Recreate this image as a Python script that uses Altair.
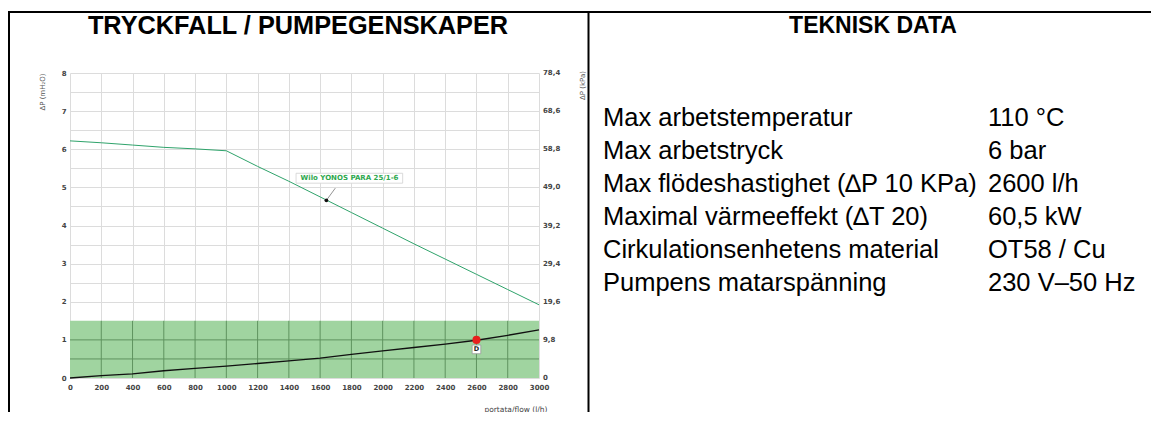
import altair as alt
import pandas as pd

# ---------------- data ----------------
flow = [0, 200, 400, 600, 800, 1000, 1200, 1400, 1600, 1800, 2000, 2200, 2400, 2600, 2800, 3000]
pump_head = [6.22, 6.17, 6.11, 6.05, 6.01, 5.96, 5.55, 5.16, 4.75, 4.34, 3.93, 3.52, 3.12, 2.72, 2.32, 1.92]
system_head = [0.0, 0.06, 0.11, 0.19, 0.25, 0.31, 0.38, 0.45, 0.52, 0.62, 0.71, 0.80, 0.89, 0.99, 1.12, 1.26]

x_ticks = list(range(0, 3001, 200))
y_grid = [i / 2 for i in range(0, 17)]
kpa_pos = [0, 1, 2, 3, 4, 5, 6, 7, 8]
kpa_labels = ["0", "9,8", "19,6", "29,4", "39,2", "49,0", "58,8", "68,6", "78,4"]

band_low, band_high = 0.0, 1.5
band_inner_x = list(range(200, 3000, 200))
band_inner_y = [0.5, 1.0]

duty_flow, duty_head, duty_label = 2600, 1.0, "D"

model_label = "Wilo YONOS PARA 25/1-6"
marker_flow, marker_head = 1640, 4.66
leader_flow, leader_head = 1697, 4.98
label_flow, label_head = 1788, 5.24
box_flow = [1446, 2128]
box_head = [5.11, 5.37]

left_title = "TRYCKFALL / PUMPEGENSKAPER"
right_title = "TEKNISK DATA"
table_labels = [
    "Max arbetstemperatur",
    "Max arbetstryck",
    "Max flödeshastighet (\u2206P 10 KPa)",
    "Maximal värmeeffekt (\u2206T 20)",
    "Cirkulationsenhetens material",
    "Pumpens matarspänning",
]
table_values = ["110 \u00b0C", "6 bar", "2600 l/h", "60,5 kW", "OT58 / Cu", "230 V\u201350 Hz"]

# ---------------- layout ----------------
W, H = 469, 305
FONT = "Liberation Sans"
CFONT = "DejaVu Sans"

xs = alt.Scale(domain=[0, 3000], nice=False, zero=False)
ys = alt.Scale(domain=[0, 8], nice=False, zero=False)

x_axis = alt.Axis(
    values=x_ticks, tickCount=100, format="d", title="portata/flow (l/h)", domain=False, ticks=False,
    labelOverlap=False, labelFont=CFONT, labelFontSize=7, labelFontWeight="bold", labelColor="#444",
    labelPadding=5, labelFlush=False, gridColor="#dcdcdc",
    titleFont=CFONT, titleFontSize=7.5, titleFontWeight="normal", titleColor="#444",
    titleAnchor="end", titleX=477, titleY=31, titleAlign="right", titleBaseline="middle",
)
y_axis = alt.Axis(
    values=y_grid, tickCount=100, labelExpr="datum.value % 1 == 0 ? format(datum.value, 'd') : ''",
    title="\u0394P (mH\u2082O)", domain=False, ticks=False, labelOverlap=False,
    labelFont=CFONT, labelFontSize=7, labelFontWeight="bold", labelColor="#444",
    labelPadding=4, gridColor="#dcdcdc",
    titleFont=CFONT, titleFontSize=7, titleFontWeight="normal", titleColor="#555",
    titleAngle=270, titleX=-28, titleY=0, titleAlign="right", titleBaseline="middle",
)


def X(f):
    return alt.X(f, scale=xs, axis=x_axis)


def Y(f):
    return alt.Y(f, scale=ys, axis=y_axis)


curves = pd.DataFrame({"flow": flow, "pump": pump_head, "system": system_head})
one = pd.DataFrame({"a": [0]})

band = alt.Chart(pd.DataFrame({"x": [flow[0]], "x2": [flow[-1]], "y": [band_low], "y2": [band_high]})).mark_rect(
    color="#a0d4a0"
).encode(x=X("x:Q"), x2="x2:Q", y=Y("y:Q"), y2="y2:Q")

band_v = alt.Chart(pd.DataFrame({
    "x": band_inner_x, "y": [band_low] * len(band_inner_x), "y2": [band_high] * len(band_inner_x)
})).mark_rule(color="#5f935f", strokeWidth=1).encode(x=X("x:Q"), y=Y("y:Q"), y2="y2:Q")
band_h = alt.Chart(pd.DataFrame({
    "y": band_inner_y, "x": [flow[0]] * len(band_inner_y), "x2": [flow[-1]] * len(band_inner_y)
})).mark_rule(color="#5f935f", strokeWidth=1).encode(y=Y("y:Q"), x=X("x:Q"), x2="x2:Q")

pump = alt.Chart(curves).mark_line(color="#2fa36b", strokeWidth=1).encode(x=X("flow:Q"), y=Y("pump:Q"))
system = alt.Chart(curves).mark_line(color="#111111", strokeWidth=1.3).encode(x=X("flow:Q"), y=Y("system:Q"))

leader = alt.Chart(pd.DataFrame({"x": [marker_flow], "y": [marker_head], "x2": [leader_flow], "y2": [leader_head]})).mark_rule(
    color="#777", strokeWidth=0.8
).encode(x=X("x:Q"), y=Y("y:Q"), x2="x2:Q", y2="y2:Q")
marker = alt.Chart(pd.DataFrame({"x": [marker_flow], "y": [marker_head]})).mark_circle(
    color="#111", size=14, opacity=1
).encode(x=X("x:Q"), y=Y("y:Q"))
box = alt.Chart(pd.DataFrame({"x": [box_flow[0]], "x2": [box_flow[1]], "y": [box_head[0]], "y2": [box_head[1]]})).mark_rect(
    fill="white", stroke="#d0d0d0", strokeWidth=0.8
).encode(x=X("x:Q"), x2="x2:Q", y=Y("y:Q"), y2="y2:Q")
box_text = alt.Chart(pd.DataFrame({"x": [label_flow], "y": [label_head], "t": [model_label]})).mark_text(
    font=CFONT, fontSize=7, fontWeight="bold", color="#2ea84e", baseline="middle", align="center"
).encode(x=X("x:Q"), y=Y("y:Q"), text="t:N")

duty = pd.DataFrame({"x": [duty_flow], "y": [duty_head], "t": [duty_label]})
duty_dot = alt.Chart(duty).mark_point(
    shape="circle", filled=True, color="#e8201e", size=65, opacity=1
).encode(x=X("x:Q"), y=Y("y:Q"))
duty_box = alt.Chart(duty).mark_point(
    shape="square", filled=True, fill="white", stroke="#999", strokeWidth=0.8, size=75, opacity=1, yOffset=9.5
).encode(x=X("x:Q"), y=Y("y:Q"))
duty_txt = alt.Chart(duty).mark_text(
    font=CFONT, fontSize=6.5, fontWeight="bold", color="#222", dy=9.5, baseline="middle"
).encode(x=X("x:Q"), y=Y("y:Q"), text="t:N")

kpa = alt.Chart(pd.DataFrame({"pos": kpa_pos, "lab": kpa_labels})).mark_text(
    font=CFONT, fontSize=7, fontWeight="bold", color="#444", align="left", baseline="middle"
).encode(x=alt.value(W + 4), y=Y("pos:Q"), text="lab:N")
kpa_title = alt.Chart(one).mark_text(
    font=CFONT, fontSize=7, color="#555", angle=270, align="right", baseline="middle"
).encode(x=alt.value(513), y=alt.value(-2), text=alt.value("\u0394P (kPa)"))

# frame and panel texts
border_top = alt.Chart(one).mark_rule(color="black", strokeWidth=2).encode(
    x=alt.value(-62), x2=alt.value(1090), y=alt.value(-61)
)
border_left = alt.Chart(one).mark_rule(color="black", strokeWidth=2).encode(
    x=alt.value(-61), y=alt.value(-62), y2=alt.value(345)
)
border_mid = alt.Chart(one).mark_rule(color="black", strokeWidth=2).encode(
    x=alt.value(518.5), y=alt.value(-62), y2=alt.value(345)
)
title_l = alt.Chart(one).mark_text(
    font=FONT, fontSize=25.3, fontWeight="bold", color="black", align="center", baseline="middle"
).encode(x=alt.value(228), y=alt.value(-47), text=alt.value(left_title))
title_r = alt.Chart(one).mark_text(
    font=FONT, fontSize=23, fontWeight="bold", color="black", align="center", baseline="middle"
).encode(x=alt.value(803), y=alt.value(-47), text=alt.value(right_title))

tab_l = alt.Chart(one).mark_text(
    font=FONT, fontSize=25.5, color="black", align="left", baseline="top", lineHeight=33
).encode(x=alt.value(533), y=alt.value(33), text=alt.value(table_labels))
tab_v = alt.Chart(one).mark_text(
    font=FONT, fontSize=25.5, color="black", align="left", baseline="top", lineHeight=33
).encode(x=alt.value(918), y=alt.value(33), text=alt.value(table_values))

chart = alt.layer(
    band, band_v, band_h, pump, system, leader, marker, box, box_text,
    duty_dot, duty_box, duty_txt, kpa, kpa_title,
    border_top, border_left, border_mid, title_l, title_r, tab_l, tab_v,
).properties(
    width=W, height=H,
    autosize=alt.AutoSizeParams(type="none"),
    padding={"left": 62, "top": 65, "right": 612, "bottom": 34},
    background="white",
).configure_view(stroke=None)

chart.save("out.html", embed_options={"renderer": "svg", "actions": False})
